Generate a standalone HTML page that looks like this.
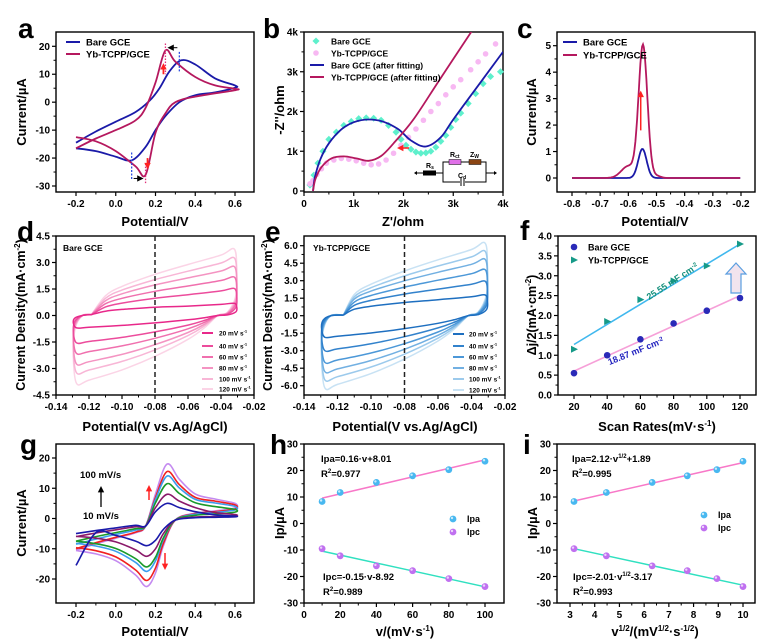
<!DOCTYPE html>
<html><head><meta charset="utf-8">
<style>
html,body{margin:0;padding:0;background:#fff;}
svg{display:block;font-family:"Liberation Sans",Arial,sans-serif;font-weight:bold;}
</style></head>
<body>
<svg id="s" width="767" height="640" viewBox="0 0 767 640" xmlns="http://www.w3.org/2000/svg"></svg>
<script>
const S=[];const add=s=>S.push(s);
function mk(v1,p1,v2,p2){return v=>p1+(v-v1)*(p2-p1)/(v2-v1);}
function smooth(pts){if(pts.length<2)return'';let d='M'+pts[0][0].toFixed(1)+','+pts[0][1].toFixed(1);
for(let i=0;i<pts.length-1;i++){const p0=pts[i-1]||pts[i],p1=pts[i],p2=pts[i+1],p3=pts[i+2]||p2;
const c1=[p1[0]+(p2[0]-p0[0])/6,p1[1]+(p2[1]-p0[1])/6],c2=[p2[0]-(p3[0]-p1[0])/6,p2[1]-(p3[1]-p1[1])/6];
d+='C'+c1[0].toFixed(1)+','+c1[1].toFixed(1)+' '+c2[0].toFixed(1)+','+c2[1].toFixed(1)+' '+p2[0].toFixed(1)+','+p2[1].toFixed(1);}return d;}
function axes(o){const [x0,y0,x1,y1]=o.box;const X=mk(...o.xm),Y=mk(...o.ym);
add(`<rect x="${x0}" y="${y0}" width="${x1-x0}" height="${y1-y0}" fill="none" stroke="#000" stroke-width="1.4"/>`);
o.xt.forEach((v,i)=>{const p=X(v);add(`<line x1="${p}" y1="${y1}" x2="${p}" y2="${y1+4}" stroke="#000" stroke-width="1.2"/>`);
add(`<text x="${p}" y="${y1+15}" font-size="10" text-anchor="middle">${o.xl[i]}</text>`);
if(i<o.xt.length-1){const m=X((v+o.xt[i+1])/2);add(`<line x1="${m}" y1="${y1}" x2="${m}" y2="${y1+2.5}" stroke="#000"/>`);}});
o.yt.forEach((v,i)=>{const p=Y(v);add(`<line x1="${x0-4}" y1="${p}" x2="${x0}" y2="${p}" stroke="#000" stroke-width="1.2"/>`);
add(`<text x="${x0-6}" y="${p+3.5}" font-size="10" text-anchor="end">${o.yl[i]}</text>`);
if(i<o.yt.length-1){const m=Y((v+o.yt[i+1])/2);add(`<line x1="${x0-2.5}" y1="${m}" x2="${x0}" y2="${m}" stroke="#000"/>`);}});
add(`<clipPath id="${o.id}"><rect x="${x0}" y="${y0}" width="${x1-x0}" height="${y1-y0}"/></clipPath>`);
return {X,Y,c:`clip-path="url(#${o.id})"`};}
function curve(A,pts,col,w,extra){add(`<path d="${smooth(pts.map(p=>[A.X(p[0]),A.Y(p[1])]))}" fill="none" stroke="${col}" stroke-width="${w||1.8}" ${A.c} ${extra||''}/>`);}
function T(x,y,t,sz,extra){add(`<text x="${x}" y="${y}" font-size="${sz}" ${extra||''}>${t}</text>`);}
function ylab(x,y,t,sz){add(`<text x="${x}" y="${y}" font-size="${sz||13}" text-anchor="middle" transform="rotate(-90 ${x} ${y})">${t}</text>`);}
function arrow(x1,y1,x2,y2,col,w){const a=Math.atan2(y2-y1,x2-x1),h=4;
add(`<line x1="${x1}" y1="${y1}" x2="${x2-Math.cos(a)*h}" y2="${y2-Math.sin(a)*h}" stroke="${col}" stroke-width="${w||1.5}"/>`);
add(`<polygon points="${x2},${y2} ${x2-Math.cos(a)*h*1.6-Math.sin(a)*h*0.8},${y2-Math.sin(a)*h*1.6+Math.cos(a)*h*0.8} ${x2-Math.cos(a)*h*1.6+Math.sin(a)*h*0.8},${y2-Math.sin(a)*h*1.6-Math.cos(a)*h*0.8}" fill="${col}"/>`);}
const BLUE='#1a1aa8',MAG='#b5185e';
function rng(a,b,s){const r=[];for(let v=a;v<=b+1e-9;v+=s)r.push(+v.toFixed(4));return r;}

// ---------- a ----------
let A=axes({id:'ca',box:[56,32,254,192],xm:[-0.2,76,0.6,235],ym:[20,46.3,-30,186],
xt:[-0.2,0,0.2,0.4,0.6],xl:['-0.2','0.0','0.2','0.4','0.6'],yt:[-30,-20,-10,0,10,20],yl:['-30','-20','-10','0','10','20']});
curve(A,[[-0.2,-14.5],[-0.1,-10.5],[0,-7],[0.1,-3.5],[0.17,0.5],[0.22,5],[0.27,11],[0.33,15],[0.4,13.5],[0.5,8.5],[0.6,6],[0.6,5.2],[0.5,3.5],[0.4,2.5],[0.32,0],[0.25,-5],[0.2,-10],[0.15,-16],[0.08,-20.8],[0,-19.5],[-0.1,-17.5],[-0.2,-16.5]],BLUE);
curve(A,[[-0.2,-16.5],[-0.1,-13],[0,-10],[0.1,-6.5],[0.15,-2],[0.2,7],[0.25,18.5],[0.3,14.5],[0.4,9],[0.5,6],[0.6,4.8],[0.6,4.3],[0.4,2],[0.3,0],[0.25,-4],[0.2,-11],[0.15,-26],[0.1,-23],[0,-17.5],[-0.1,-14],[-0.2,-12.5]],MAG);
add(`<line x1="${A.X(0.32)}" y1="${A.Y(18)}" x2="${A.X(0.32)}" y2="${A.Y(11)}" stroke="#3050e0" stroke-dasharray="2,1.5" stroke-width="1.3"/>`);
add(`<line x1="${A.X(0.25)}" y1="${A.Y(21)}" x2="${A.X(0.25)}" y2="${A.Y(10)}" stroke="#e0307a" stroke-dasharray="1.5,1.5" stroke-width="1.3"/>`);
add(`<line x1="${A.X(0.08)}" y1="${A.Y(-18)}" x2="${A.X(0.08)}" y2="${A.Y(-28)}" stroke="#3050e0" stroke-dasharray="2,1.5" stroke-width="1.3"/>`);
add(`<line x1="${A.X(0.15)}" y1="${A.Y(-22)}" x2="${A.X(0.15)}" y2="${A.Y(-29)}" stroke="#e0307a" stroke-dasharray="1.5,1.5" stroke-width="1.3"/>`);
arrow(A.X(0.31),A.Y(19.5),A.X(0.26),A.Y(19.5),'#000',1);
arrow(A.X(0.09),A.Y(-27.3),A.X(0.14),A.Y(-27.3),'#000',1);
arrow(A.X(0.24),A.Y(10),A.X(0.24),A.Y(14),'#f22',1.8);
arrow(A.X(0.16),A.Y(-20),A.X(0.16),A.Y(-24),'#f22',1.8);
add(`<line x1="66" y1="42" x2="80" y2="42" stroke="${BLUE}" stroke-width="2"/><line x1="66" y1="54" x2="80" y2="54" stroke="${MAG}" stroke-width="2"/>`);
T(86,45.5,'Bare GCE',9.5);T(86,57.5,'Yb-TCPP/GCE',9.5);
T(18,38,'a',28);ylab(26,112,'Current/µA');T(155,226,'Potential/V',13,'text-anchor="middle"');

// ---------- b ----------
A=axes({id:'cb',box:[304,32,503,192],xm:[0,304,4000,503],ym:[0,191,4000,32],
xt:[0,1000,2000,3000,4000],xl:['0','1k','2k','3k','4k'],yt:[0,1000,2000,3000,4000],yl:['0','1k','2k','3k','4k']});
const tealPts=[[120,150],[200,400],[280,700],[380,1000],[500,1300],[650,1480],[800,1650],[950,1750],[1100,1820],[1250,1840],[1400,1830],[1550,1780],[1700,1650],[1850,1480],[1950,1300],[2050,1150],[2150,1050],[2250,980],[2350,950],[2450,960],[2550,1000],[2650,1100],[2750,1250],[2850,1400],[2950,1600],[3050,1800],[3150,1960],[3300,2200],[3450,2450],[3600,2700],[3750,2880],[3950,3000]];
tealPts.forEach(p=>add(`<rect x="${A.X(p[0])-2.5}" y="${A.Y(p[1])-2.5}" width="5" height="5" fill="#5ef0cc" transform="rotate(45 ${A.X(p[0])} ${A.Y(p[1])})"/>`));
const pinkPts=[[120,180],[180,260],[260,420],[350,560],[450,700],[600,780],[750,820],[900,800],[1050,760],[1200,700],[1350,660],[1500,680],[1650,780],[1800,950],[1950,1150],[2100,1350],[2250,1560],[2400,1780],[2550,2000],[2700,2200],[2850,2420],[3000,2620],[3150,2800],[3350,3050],[3500,3250],[3650,3450],[3850,3700]];
pinkPts.forEach(p=>add(`<circle cx="${A.X(p[0])}" cy="${A.Y(p[1])}" r="2.8" fill="#f7b8f2"/>`));
curve(A,[[180,0],[220,350],[330,800],[500,1200],[750,1550],[1000,1730],[1300,1800],[1600,1740],[1900,1550],[2150,1270],[2450,1120],[2750,1350],[3000,1800],[3500,2650],[4000,3500]],BLUE);
curve(A,[[180,0],[230,300],[350,600],[550,820],[800,870],[1050,820],[1300,760],[1550,880],[1800,1200],[2200,1800],[2700,2750],[3360,4000],[3500,4280]],MAG);
add(`<g stroke="#000" stroke-width="1" fill="none"><line x1="416" y1="173" x2="443" y2="173"/><rect x="443" y="162" width="43" height="20"/><line x1="486" y1="173" x2="495" y2="173"/></g>`);
add(`<polygon points="414,173 417,171 417,175" fill="#000"/><polygon points="497,173 494,171 494,175" fill="#000"/>`);
add(`<rect x="423" y="170.5" width="13" height="5" fill="#000"/><rect x="449" y="159.5" width="12" height="5" fill="#e070e8" stroke="#000" stroke-width="0.5"/><rect x="469" y="159.5" width="12" height="5" fill="#8b4513" stroke="#000" stroke-width="0.5"/>`);
add(`<rect x="460" y="178" width="5" height="8" fill="#fff"/><line x1="461" y1="178" x2="461" y2="186" stroke="#000"/><line x1="464" y1="178" x2="464" y2="186" stroke="#000"/>`);
T(426,168,'R<tspan font-size="5" dy="1">s</tspan>',7);T(450,157,'R<tspan font-size="5" dy="1">ct</tspan>',7);T(470,157,'Z<tspan font-size="5" dy="1">W</tspan>',7);T(458,178,'C<tspan font-size="5" dy="1">d</tspan>',7);
arrow(409,148,397,148,'#f22',1.5);
add(`<rect x="313.5" y="38.5" width="5" height="5" fill="#5ef0cc" transform="rotate(45 316 41)"/><circle cx="316" cy="53" r="2.8" fill="#f7b8f2"/>`);
add(`<line x1="310" y1="65" x2="324" y2="65" stroke="${BLUE}" stroke-width="2"/><line x1="310" y1="77" x2="324" y2="77" stroke="${MAG}" stroke-width="2"/>`);
T(331,44.5,'Bare GCE',8.5);T(331,56.5,'Yb-TCPP/GCE',8.5);T(331,68.5,'Bare GCE (after fitting)',8.5);T(331,80.5,'Yb-TCPP/GCE (after fitting)',8.5);
T(263,38,'b',28);ylab(284,110,'-Z\'\'/ohm');T(403,226,'Z\'/ohm',13,'text-anchor="middle"');

// ---------- c ----------
A=axes({id:'cc',box:[557,32,755,192],xm:[-0.8,572,-0.2,741],ym:[0,178,5,45.7],
xt:[-0.8,-0.7,-0.6,-0.5,-0.4,-0.3,-0.2],xl:['-0.8','-0.7','-0.6','-0.5','-0.4','-0.3','-0.2'],yt:[0,1,2,3,4,5],yl:['0','1','2','3','4','5']});
let pb=[],py=[];
for(let v=-0.8;v<=-0.2;v+=0.003){pb.push([v,1.1*Math.exp(-Math.pow((v+0.55)/0.021,2))]);
py.push([v,5.0*Math.exp(-Math.pow((v+0.548)/0.022,2))+0.45*Math.exp(-Math.pow((v+0.6)/0.035,2))+(v>-0.53&&v<-0.45?0.08*Math.exp(-Math.pow((v+0.5)/0.02,2)):0)]);}
add(`<path d="M${pb.map(p=>A.X(p[0]).toFixed(1)+','+A.Y(p[1]).toFixed(1)).join('L')}" fill="none" stroke="${BLUE}" stroke-width="1.8"/>`);
add(`<path d="M${py.map(p=>A.X(p[0]).toFixed(1)+','+A.Y(p[1]).toFixed(1)).join('L')}" fill="none" stroke="${MAG}" stroke-width="1.8"/>`);
arrow(A.X(-0.556),A.Y(1.8),A.X(-0.556),A.Y(3.3),'#f22',1.5);
add(`<line x1="563" y1="42" x2="577" y2="42" stroke="${BLUE}" stroke-width="2"/><line x1="563" y1="55" x2="577" y2="55" stroke="${MAG}" stroke-width="2"/>`);
T(583,45.5,'Bare GCE',9.5);T(583,58.5,'Yb-TCPP/GCE',9.5);
T(517,38,'c',28);ylab(536,112,'Current/µA');T(655,226,'Potential/V',13,'text-anchor="middle"');

// ---------- d,e ----------
function cvset(A,Ts,Bs,cols,dx){
for(let k=5;k>=0;k--){const Tt=Ts[k],B=Bs[k];
const pts=[[-0.1215+dx,0.05],[-0.11,0.05+(Tt)*0.28],[-0.10,0.05+Tt*0.42],[-0.08,0.05+Tt*0.6],[-0.06,Tt*0.76],[-0.04,Tt*0.9],[-0.032,Tt*0.99],[-0.0305,Tt*0.7],[-0.031,Tt*0.3],[-0.036,0.05*Tt],[-0.042,0],[-0.05,B*0.18],[-0.06,B*0.35],[-0.08,B*0.6],[-0.10,B*0.8],[-0.12,B*0.95],[-0.1275,B],[-0.1295,B*0.6],[-0.1285,B*0.2],[-0.124,0.0],[-0.1215+dx,0.05]];
curve(A,pts,cols[k],1.5);}}
A=axes({id:'cd',box:[56,236,254,395],xm:[-0.14,56,-0.02,254],ym:[4.5,236,-4.5,395],
xt:rng(-0.14,-0.02,0.02),xl:['-0.14','-0.12','-0.10','-0.08','-0.06','-0.04','-0.02'],yt:[-4.5,-3,-1.5,0,1.5,3,4.5],yl:['-4.5','-3.0','-1.5','0.0','1.5','3.0','4.5']});
const pinks=['#e8288a','#ec4c9c','#f070ae','#f494c2','#f8b6d6','#fbd4e6'];
cvset(A,[0.7,1.55,2.2,2.8,3.3,3.8],[-0.7,-1.55,-2.15,-2.75,-3.25,-3.85],pinks,0.003);
add(`<line x1="${A.X(-0.08)}" y1="236" x2="${A.X(-0.08)}" y2="395" stroke="#222" stroke-width="1.5" stroke-dasharray="5,3"/>`);
T(63,251,'Bare GCE',8.5);
const ly=[333,346,357,368,379,389],ll=['20','40','60','80','100','120'];
ly.forEach((y,i)=>{add(`<line x1="202" y1="${y}" x2="213" y2="${y}" stroke="${pinks[i]}" stroke-width="2"/>`);T(219,y+2.5,ll[i]+' mV s<tspan font-size="4" dy="-3">-1</tspan>',6.5);});
T(17,241,'d',28);ylab(25,315,'Current Density(mA·cm<tspan font-size="8" dy="-5">-2</tspan><tspan dy="5">)</tspan>',12.5);T(155,431,'Potential(V vs.Ag/AgCl)',13,'text-anchor="middle"');

A=axes({id:'ce',box:[304,236,505,395],xm:[-0.14,304,-0.02,505],ym:[6,245.7,-6,385.7],
xt:rng(-0.14,-0.02,0.02),xl:['-0.14','-0.12','-0.10','-0.08','-0.06','-0.04','-0.02'],yt:[-6,-4.5,-3,-1.5,0,1.5,3,4.5,6],yl:['-6.0','-4.5','-3.0','-1.5','0.0','1.5','3.0','4.5','6.0']});
const blues=['#1e6fc0','#3282cc','#4c98d8','#72b0e2','#9ccaec','#c8e2f4'];
cvset(A,[1.8,3.0,4.0,4.9,5.6,6.3],[-1.85,-3.0,-4.0,-4.8,-5.5,-6.2],blues,0.005);
add(`<line x1="${A.X(-0.08)}" y1="236" x2="${A.X(-0.08)}" y2="395" stroke="#222" stroke-width="1.5" stroke-dasharray="5,3"/>`);
T(313,251,'Yb-TCPP/GCE',8.5);
[334,346,357,368,379,390].forEach((y,i)=>{add(`<line x1="453" y1="${y}" x2="464" y2="${y}" stroke="${blues[i]}" stroke-width="2"/>`);T(469,y+2.5,ll[i]+' mV s<tspan font-size="4" dy="-3">-1</tspan>',6.5);});
T(265,241,'e',28);ylab(272,315,'Current Density(mA·cm<tspan font-size="8" dy="-5">-2</tspan><tspan dy="5">)</tspan>',12.5);T(405,431,'Potential(V vs.Ag/AgCl)',13,'text-anchor="middle"');

// ---------- f ----------
A=axes({id:'cf',box:[558,236,756,395],xm:[20,574,120,740],ym:[0,395,4,236],
xt:[20,40,60,80,100,120],xl:['20','40','60','80','100','120'],yt:rng(0,4,0.5),yl:['0.0','0.5','1.0','1.5','2.0','2.5','3.0','3.5','4.0']});
curve(A,[[20,0.6],[120,2.5]],'#f6a0d8',1.6);curve(A,[[20,1.27],[120,3.8]],'#40b8ee',1.6);
[[20,0.55],[40,1.0],[60,1.4],[80,1.8],[100,2.12],[120,2.44]].forEach(p=>add(`<circle cx="${A.X(p[0])}" cy="${A.Y(p[1])}" r="3.3" fill="#2a2ab8"/>`));
[[20,1.15],[40,1.85],[60,2.4],[80,2.87],[100,3.25],[120,3.8]].forEach(p=>{const x=A.X(p[0]),y=A.Y(p[1]);add(`<polygon points="${x-3},${y-3.5} ${x+4},${y} ${x-3},${y+3.5}" fill="#169a88"/>`);});
add(`<circle cx="574" cy="247" r="3.3" fill="#2a2ab8"/><polygon points="571,256.5 578,260 571,263.5" fill="#169a88"/>`);
T(588,250.5,'Bare GCE',9);T(588,263.5,'Yb-TCPP/GCE',9);
add(`<text x="674" y="284" font-size="9" fill="#14907c" text-anchor="middle" transform="rotate(-33 674 284)">25.55 mF cm<tspan font-size="6" dy="-3">-2</tspan></text>`);
add(`<text x="637" y="354" font-size="9" fill="#2424c0" text-anchor="middle" transform="rotate(-22 637 354)">18.87 mF cm<tspan font-size="6" dy="-3">-2</tspan></text>`);
add(`<polygon points="736,263 746,274 741,274 741,293 731,293 731,274 726,274" fill="#f2e4ee" stroke="#5a9ee0" stroke-width="1.2"/>`);
T(520,240,'f',28);ylab(536,315,'Δj/2(mA·cm<tspan font-size="8" dy="-5">-2</tspan><tspan dy="5">)</tspan>',12.5);T(657,431,'Scan Rates(mV·s<tspan font-size="8" dy="-5">-1</tspan><tspan dy="5">)</tspan>',13,'text-anchor="middle"');

// ---------- g ----------
A=axes({id:'cg',box:[56,444,254,603],xm:[-0.2,76,0.6,235],ym:[20,458,-20,579],
xt:[-0.2,0,0.2,0.4,0.6],xl:['-0.2','0.0','0.2','0.4','0.6'],yt:[-20,-10,0,10,20],yl:['-20','-10','0','10','20']});
const gc=['#c48af0','#f02020','#3c9cee','#1a9a2a','#8a1a6a','#1a1aaa'];
const gA=[18,15.5,14,11.5,8,5],gC=[-22.5,-20.5,-17.5,-16,-12.5,-9],gL=[-10.5,-10,-8.5,-7.5,-6,-5],gR=[5,4.5,4,3,1.3,0.8];
for(let k=0;k<6;k++){const a=gA[k],c=gC[k],L=gL[k],R=gR[k];
curve(A,[[-0.2,L],[-0.1,L*0.8],[0,L*0.62],[0.1,L*0.45],[0.15,-2.5],[0.2,a*0.45],[0.258,a],[0.32,a*0.72],[0.4,a*0.45],[0.5,R+a*0.08],[0.6,R],[0.6,R*0.7],[0.5,R*0.5],[0.4,R*0.35],[0.3,-0.5],[0.24,c*0.4],[0.2,c*0.8],[0.155,c],[0.1,c*0.83],[0,c*0.62],[-0.1,c*0.52],[-0.2,k==5?-15.5:c*0.47]],gc[k],1.6);}
T(80,478,'100 mV/s',9.5);T(83,519,'10 mV/s',9.5);
arrow(101,507,101,486,'#000',1.3);arrow(149,500,149,485,'#f22',1.5);arrow(165,553,165,570,'#f22',1.5);
T(20,454,'g',28);ylab(26,523,'Current/µA');T(155,636,'Potential/V',13,'text-anchor="middle"');

// ---------- h, i ----------
const ipa=[8.3,11.7,15.5,18,20.3,23.5],ipc=[-9.5,-12.2,-16,-17.8,-20.8,-23.8],vv=[10,20,40,60,80,100];
function dot(x,y,col){add(`<circle cx="${x}" cy="${y}" r="3.4" fill="${col}"/><circle cx="${x-1}" cy="${y-1}" r="1.2" fill="#fff" opacity="0.7"/>`);}
A=axes({id:'ch',box:[304,444,504,603],xm:[0,304,100,485],ym:[30,444,-30,603],
xt:[0,20,40,60,80,100],xl:['0','20','40','60','80','100'],yt:[-30,-20,-10,0,10,20,30],yl:['-30','-20','-10','0','10','20','30']});
curve(A,[[10,9.6],[100,24]],'#f878c8',1.5);curve(A,[[10,-10.4],[100,-23.9]],'#30e0c0',1.5);
vv.forEach((v,i)=>{dot(A.X(v),A.Y(ipa[i]),'#48b8f0');dot(A.X(v),A.Y(ipc[i]),'#c070f0');});
T(321,462,'Ipa=0.16·v+8.01',9.5);T(321,477,'R<tspan font-size="6" dy="-4">2</tspan><tspan dy="4">=0.977</tspan>',9.5);
T(323,580,'Ipc=-0.15·v-8.92',9.5);T(323,595,'R<tspan font-size="6" dy="-4">2</tspan><tspan dy="4">=0.989</tspan>',9.5);
dot(453,519,'#48b8f0');dot(453,532,'#c070f0');T(467,522,'Ipa',9);T(467,535,'Ipc',9);
T(270,454,'h',28);ylab(284,523,'Ip/µA');T(405,636,'v/(mV·s<tspan font-size="8" dy="-5">-1</tspan><tspan dy="5">)</tspan>',13,'text-anchor="middle"');

A=axes({id:'ci',box:[557,444,755,603],xm:[3,570,10,743],ym:[30,444,-30,603],
xt:[3,4,5,6,7,8,9,10],xl:['3','4','5','6','7','8','9','10'],yt:[-30,-20,-10,0,10,20,30],yl:['-30','-20','-10','0','10','20','30']});
curve(A,[[3.16,8.5],[10,23]],'#f878c8',1.5);curve(A,[[3.16,-9.5],[10,-23.3]],'#30e0c0',1.5);
vv.forEach((v,i)=>{dot(A.X(Math.sqrt(v)),A.Y(ipa[i]),'#48b8f0');dot(A.X(Math.sqrt(v)),A.Y(ipc[i]),'#c070f0');});
T(572,462,'Ipa=2.12·v<tspan font-size="6" dy="-4">1/2</tspan><tspan dy="4">+1.89</tspan>',9.5);T(572,477,'R<tspan font-size="6" dy="-4">2</tspan><tspan dy="4">=0.995</tspan>',9.5);
T(573,580,'Ipc=-2.01·v<tspan font-size="6" dy="-4">1/2</tspan><tspan dy="4">-3.17</tspan>',9.5);T(573,595,'R<tspan font-size="6" dy="-4">2</tspan><tspan dy="4">=0.993</tspan>',9.5);
dot(704,515,'#48b8f0');dot(704,528,'#c070f0');T(718,518,'Ipa',9);T(718,531,'Ipc',9);
T(523,454,'i',28);ylab(537,523,'Ip/µA');T(655,636,'v<tspan font-size="8" dy="-5">1/2</tspan><tspan dy="5">/(mV</tspan><tspan font-size="8" dy="-5">1/2</tspan><tspan dy="5">·s</tspan><tspan font-size="8" dy="-5">-1/2</tspan><tspan dy="5">)</tspan>',13,'text-anchor="middle"');

document.getElementById('s').innerHTML=S.join('');
</script>
</body></html>
